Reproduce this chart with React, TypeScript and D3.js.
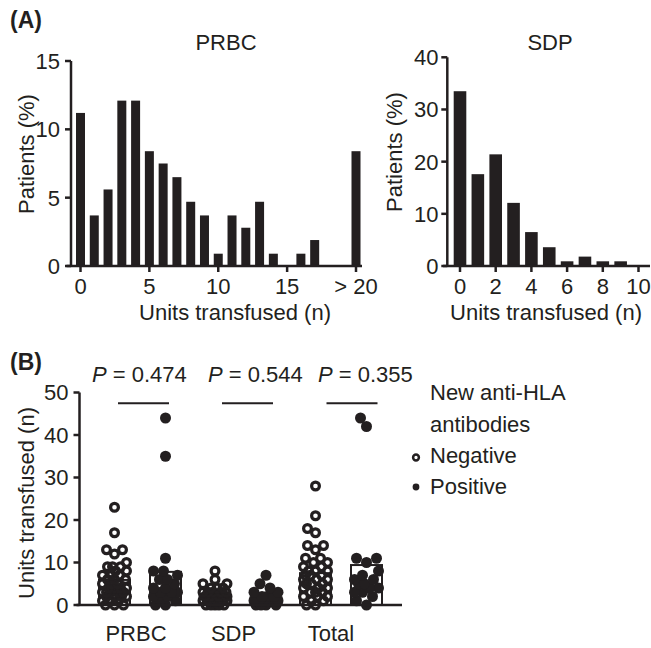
import React from "react";
import * as d3 from "d3";

// ---------- Panel A data ----------
const prbcUnits = [0,1,2,3,4,5,6,7,8,9,10,11,12,13,14,15,16,17,18,19,20];
const prbcPct = [11.2,3.7,5.6,12.1,12.1,8.4,7.5,6.5,4.7,3.7,0.9,3.7,2.8,4.7,0.9,0,0.9,1.9,0,0,8.4];
const prbcXTicks = [0,5,10,15,20];
const prbcXTickLabels = ["0","5","10","15","> 20"];
const prbcYTicks = [0,5,10,15];

const sdpUnits = [0,1,2,3,4,5,6,7,8,9,10];
const sdpPct = [33.5,17.6,21.4,12.1,6.5,3.6,0.9,1.8,0.9,0.9,0];
const sdpXTicks = [0,2,4,6,8,10];
const sdpYTicks = [0,10,20,30,40];

// ---------- Panel B data ----------
const groups = ["PRBC","SDP","Total"];
const pValues = ["0.474","0.544","0.355"];
const meanNeg = [5.9, 2.4, 7.5];
const meanPos = [7.8, 1.8, 9.4];
const prbcNeg = [0,0,0,1,1,1,2,2,2,2,3,3,3,3,3,4,4,4,4,5,5,5,6,6,6,7,7,7,8,8,9,9,9,10,12,13,13,17,23];
const prbcPos = [0,0,1,1,2,2,3,3,3,4,4,5,6,6,7,8,8,11,35,44];
const sdpNeg = [0,0,0,0,0,1,1,1,1,1,1,2,2,2,2,2,2,3,3,3,3,3,4,4,4,5,5,6,8];
const sdpPos = [0,0,0,0,1,1,1,1,1,2,2,2,3,3,4,5,7];
const totalNeg = [0,0,1,1,2,2,2,3,3,3,4,4,4,5,5,5,6,6,6,7,7,7,8,8,8,9,9,10,10,11,11,13,14,14,17,18,21,28];
const totalPos = [0,1,2,3,3,4,4,5,5,6,6,7,8,10,11,11,42,44];
const yTicksB = [0,10,20,30,40,50];
const legendTitle = ["New anti-HLA","antibodies"];
const legendLabels = ["Negative","Positive"];

const INK = "#231f20";
const FONT = "'Liberation Sans', Arial, Helvetica, sans-serif";
const FS = 22;

function dodge(values: number[], y: (v: number) => number, cx: number, minD: number, maxOff: number) {
  const placed: { x: number; y: number; v: number }[] = [];
  const sorted = [...values].sort((a, b) => a - b);
  const cands: number[] = [0];
  for (let k = 1; k <= maxOff; k++) { cands.push(-k, k); }
  for (const v of sorted) {
    const py = y(v);
    let chosen: number | null = null;
    let bestOff = 0, bestD = -1;
    for (const off of cands) {
      let md = Infinity;
      for (const p of placed) {
        const d = Math.hypot(p.x - (cx + off), p.y - py);
        if (d < md) md = d;
      }
      if (md >= minD) { chosen = off; break; }
      if (md > bestD) { bestD = md; bestOff = off; }
    }
    placed.push({ x: cx + (chosen === null ? bestOff : chosen), y: py, v });
  }
  return placed;
}

export default function App() {
  // PRBC histogram
  const pY0 = 266;
  const pX = d3.scaleLinear().domain([0, 20]).range([80.5, 356]);
  const pY = d3.scaleLinear().domain([0, 15]).range([pY0, 61]);
  const pAxisX = 71;
  // SDP histogram
  const sX = d3.scaleLinear().domain([0, 10]).range([460, 638.5]);
  const sY = d3.scaleLinear().domain([0, 40]).range([pY0, 57.3]);
  const sAxisX = 447.3;
  // Panel B
  const bY = d3.scaleLinear().domain([0, 50]).range([605, 392.5]);
  const bAxisX = 79.5;
  const gX = d3.scalePoint<string>().domain(groups).range([140, 341]);
  const sub = 25.5;
  const negData = [prbcNeg, sdpNeg, totalNeg];
  const posData = [prbcPos, sdpPos, totalPos];
  const barW = 31;
  const pLineShift = [3.5, 7, 11];
  const pTextX = [92, 208, 318];

  const ts = { fontFamily: FONT, fontSize: FS, fill: INK } as const;

  return (
    <svg width={651} height={648} style={{ position: "absolute", left: 0, top: 0, background: "#fff" }}
      fontFamily={FONT}>
      <rect width={651} height={648} fill="#fff" />
      {/* Panel labels */}
      <text x={10} y={28} fontSize={23} fontWeight="bold" fill={INK}>(A)</text>
      <text x={10} y={370} fontSize={23} fontWeight="bold" fill={INK}>(B)</text>

      {/* ---------- PRBC histogram ---------- */}
      <text x={226} y={50} textAnchor="middle" style={ts}>PRBC</text>
      {prbcUnits.map((u, i) => (
        <rect key={u} x={pX(u) - 4.5} width={9} y={pY(prbcPct[i])} height={pY0 - pY(prbcPct[i])} fill={INK} />
      ))}
      <line x1={pAxisX} x2={pAxisX} y1={pY(15)} y2={pY0} stroke={INK} strokeWidth={2.5} />
      <line x1={66.5} x2={362} y1={pY0} y2={pY0} stroke={INK} strokeWidth={2.5} />
      {prbcYTicks.map(t => (
        <g key={t}>
          <line x1={pAxisX - 6} x2={pAxisX} y1={pY(t)} y2={pY(t)} stroke={INK} strokeWidth={2.5} />
          <text x={60} y={pY(t)} dy="0.36em" textAnchor="end" style={ts}>{t}</text>
        </g>
      ))}
      {prbcXTicks.map((t, i) => (
        <g key={t}>
          <line x1={pX(t)} x2={pX(t)} y1={pY0} y2={pY0 + 6} stroke={INK} strokeWidth={2.5} />
          <text x={pX(t)} y={294} textAnchor="middle" style={ts}>{prbcXTickLabels[i]}</text>
        </g>
      ))}
      <text x={235} y={320} textAnchor="middle" style={ts}>Units transfused (n)</text>
      <text transform={`translate(33.5,154) rotate(-90)`} textAnchor="middle" style={ts}>Patients (%)</text>

      {/* ---------- SDP histogram ---------- */}
      <text x={550} y={50} textAnchor="middle" style={ts}>SDP</text>
      {sdpUnits.map((u, i) => (
        <rect key={u} x={sX(u) - 6.3} width={12.6} y={sY(sdpPct[i])} height={pY0 - sY(sdpPct[i])} fill={INK} />
      ))}
      <line x1={sAxisX} x2={sAxisX} y1={sY(40)} y2={pY0} stroke={INK} strokeWidth={2.5} />
      <line x1={443} x2={650} y1={pY0} y2={pY0} stroke={INK} strokeWidth={2.5} />
      {sdpYTicks.map(t => (
        <g key={t}>
          <line x1={sAxisX - 6} x2={sAxisX} y1={sY(t)} y2={sY(t)} stroke={INK} strokeWidth={2.5} />
          <text x={438.5} y={sY(t)} dy="0.36em" textAnchor="end" style={ts}>{t}</text>
        </g>
      ))}
      {sdpXTicks.map(t => (
        <g key={t}>
          <line x1={sX(t)} x2={sX(t)} y1={pY0} y2={pY0 + 6} stroke={INK} strokeWidth={2.5} />
          <text x={sX(t)} y={294} textAnchor="middle" style={ts}>{t}</text>
        </g>
      ))}
      <text x={546} y={320} textAnchor="middle" style={ts}>Units transfused (n)</text>
      <text transform={`translate(401.5,152) rotate(-90)`} textAnchor="middle" style={ts}>Patients (%)</text>

      {/* ---------- Panel B ---------- */}
      {groups.map((g, gi) => {
        const cxN = (gX(g) as number) - sub;
        const cxP = (gX(g) as number) + sub;
        const ptsN = dodge(negData[gi], bY, cxN, 8.5, 12);
        const ptsP = dodge(posData[gi], bY, cxP, 10, 12);
        return (
          <g key={g}>
            <rect x={cxN - barW / 2} width={barW} y={bY(meanNeg[gi])} height={605 - bY(meanNeg[gi])}
              fill="none" stroke={INK} strokeWidth={2} />
            <rect x={cxP - barW / 2} width={barW} y={bY(meanPos[gi])} height={605 - bY(meanPos[gi])}
              fill="none" stroke={INK} strokeWidth={2} />
            {ptsN.map((p, i) => (
              <circle key={"n" + i} cx={p.x} cy={p.y} r={3.9} fill="none" stroke={INK} strokeWidth={3.2} />
            ))}
            {ptsP.map((p, i) => (
              <circle key={"p" + i} cx={p.x} cy={p.y} r={5.5} fill={INK} />
            ))}
            <line x1={cxN + pLineShift[gi]} x2={cxP + pLineShift[gi]} y1={403.3} y2={403.3} stroke={INK} strokeWidth={2} />
            <text x={pTextX[gi]} y={381.5} style={ts}>
              <tspan fontStyle="italic">P</tspan> = {pValues[gi]}
            </text>
            <text x={(gX(g) as number) - 4 - gi * 3} y={641} textAnchor="middle" style={ts}>{g}</text>
          </g>
        );
      })}
      <line x1={bAxisX} x2={bAxisX} y1={bY(50)} y2={605} stroke={INK} strokeWidth={2.5} />
      <line x1={76.5} x2={402} y1={605} y2={605} stroke={INK} strokeWidth={2.5} />
      {yTicksB.map(t => (
        <g key={t}>
          <line x1={bAxisX - 6} x2={bAxisX} y1={bY(t)} y2={bY(t)} stroke={INK} strokeWidth={2.5} />
          <text x={68.5} y={bY(t)} dy="0.36em" textAnchor="end" style={ts}>{t}</text>
        </g>
      ))}
      <text transform={`translate(33.5,503) rotate(-90)`} textAnchor="middle" style={ts}>Units transfused (n)</text>

      {/* Legend */}
      {legendTitle.map((t, i) => (
        <text key={t} x={430} y={400 + i * 31.5} style={ts}>{t}</text>
      ))}
      <circle cx={416} cy={457.5} r={2.9} fill="none" stroke={INK} strokeWidth={2.5} />
      <circle cx={416} cy={487} r={3.4} fill={INK} />
      {legendLabels.map((t, i) => (
        <text key={t} x={430} y={462.5 + i * 31.5} style={ts}>{t}</text>
      ))}
    </svg>
  );
}
